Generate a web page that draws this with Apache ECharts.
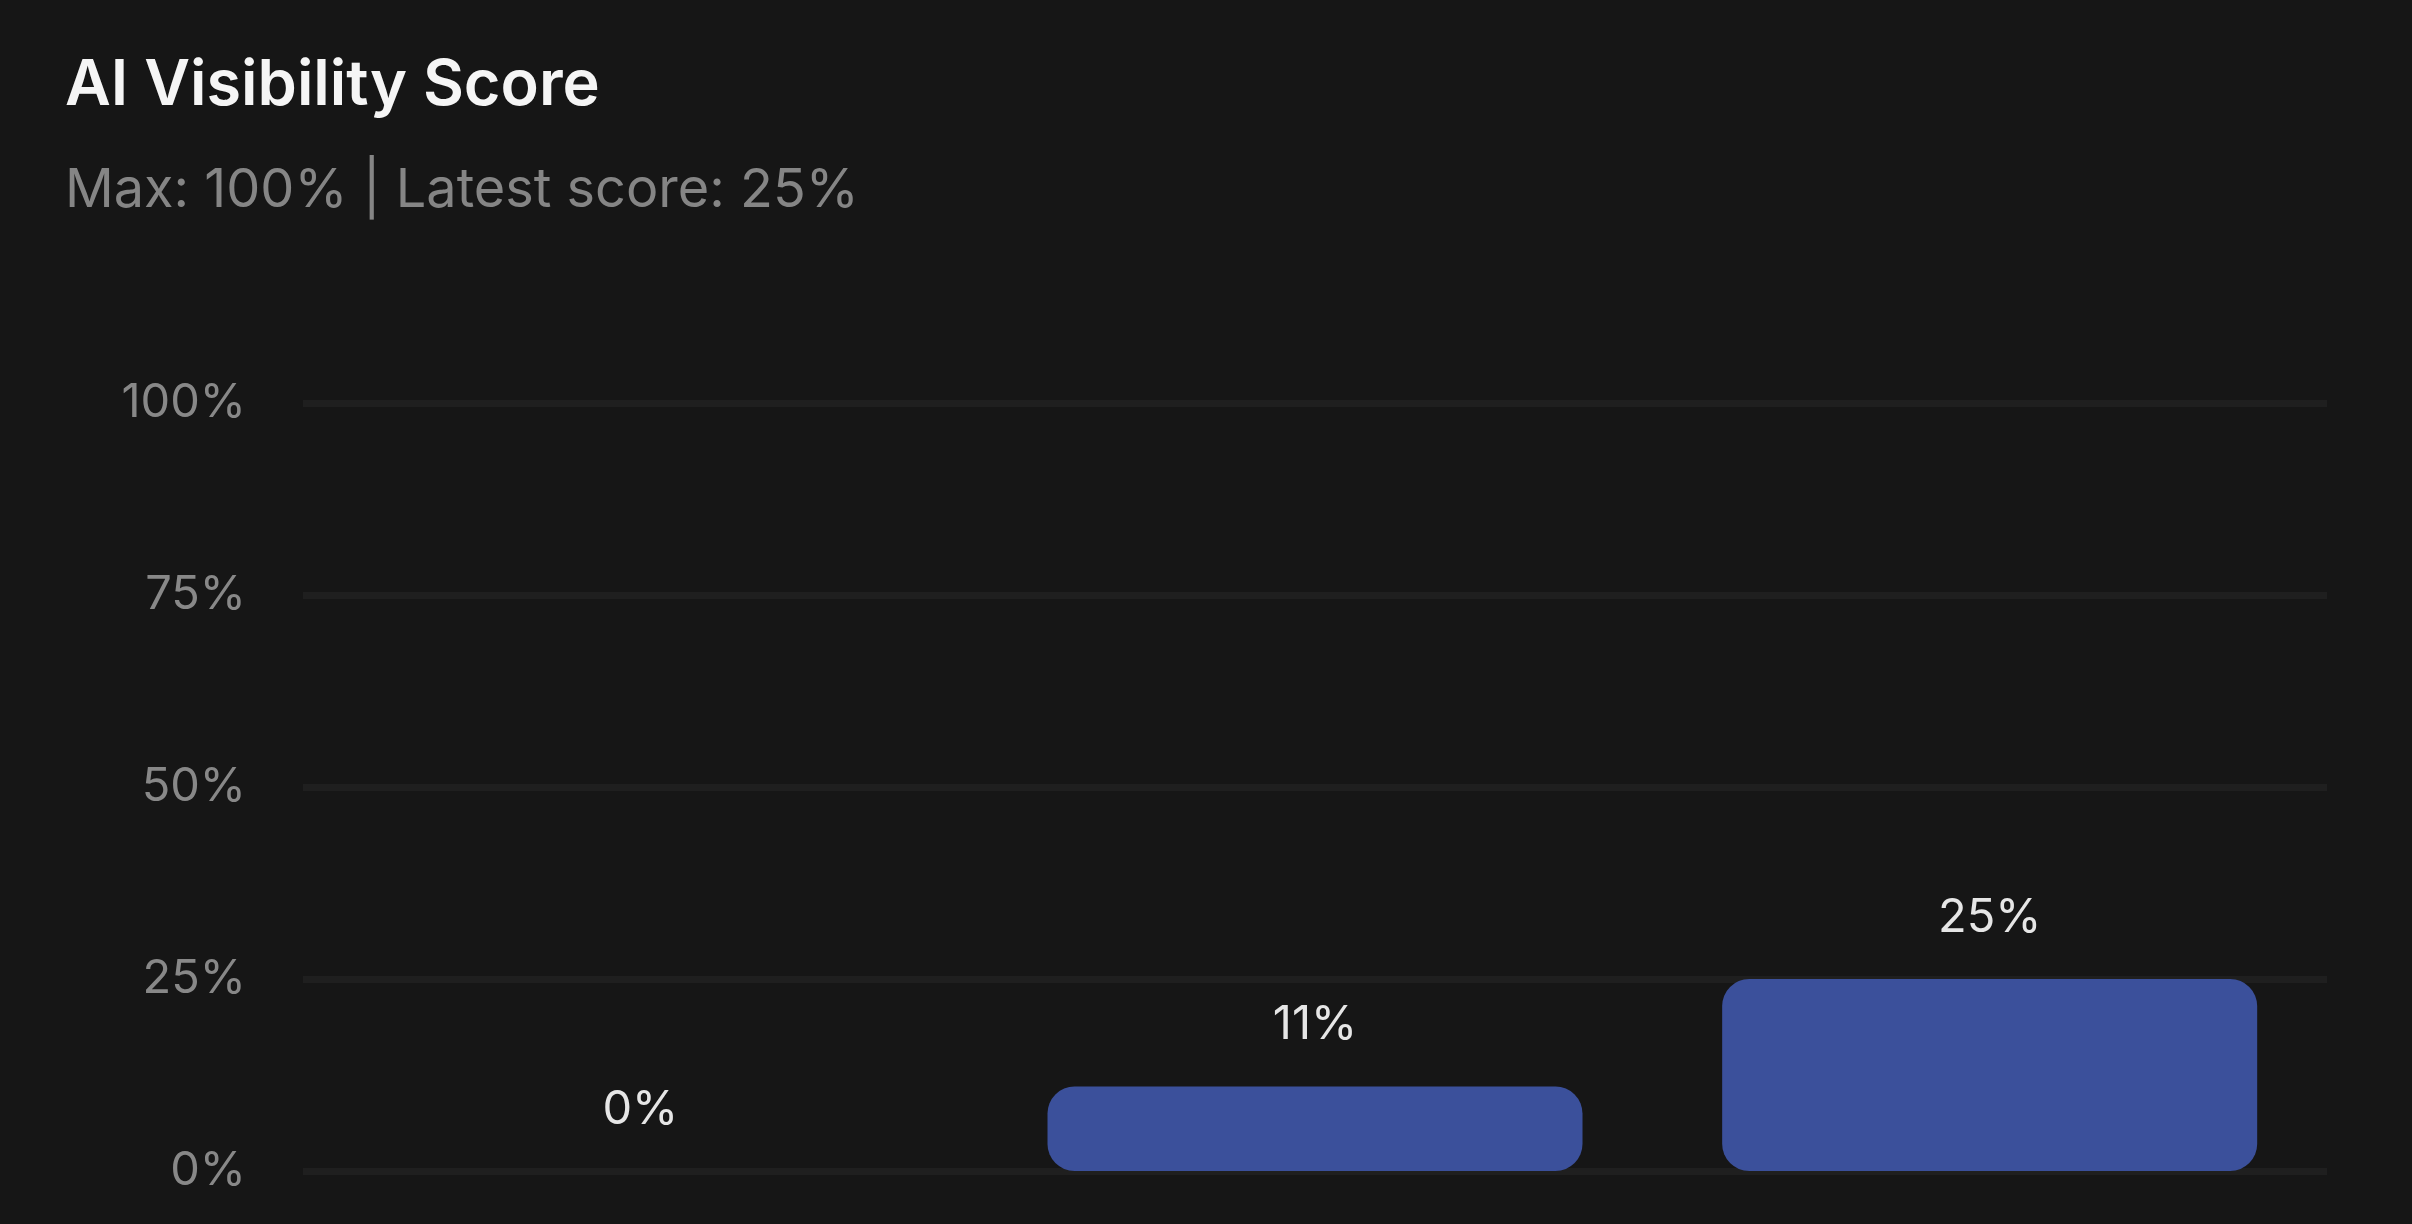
<!DOCTYPE html>
<html>
<head>
<meta charset="utf-8">
<script src="https://cdn.jsdelivr.net/npm/echarts@6/dist/echarts.min.js"></script>
<style>
html,body{margin:0;padding:0;background:#161616;}
#c{width:2412px;height:1224px;}
</style>
</head>
<body>
<div id="c"></div>
<script>
const titleText = "AI Visibility Score";
const subtitleText = "Max: 100% | Latest score: 25%";
const categories = ["Run 1", "Run 2", "Run 3"];
const scores = [0, 11, 25];
const yTicks = [0, 25, 50, 75, 100];

const chart = echarts.init(document.getElementById('c'), null, {renderer: 'canvas'});
chart.setOption({
  backgroundColor: '#161616',
  animation: false,
  title: [
    {text: titleText, left: 65, top: 55, padding: 0,
     textStyle: {color: '#f5f5f5', fontFamily: 'Inter', fontWeight: 600, fontSize: 63}},
    {text: subtitleText, left: 65, top: 164, padding: 0,
     textStyle: {color: '#858585', fontFamily: 'Inter', fontWeight: 400, fontSize: 54}}
  ],
  grid: {left: 303, right: 85, top: 403, bottom: 53, containLabel: false},
  xAxis: {
    type: 'category',
    data: categories,
    axisLine: {show: false},
    axisTick: {show: false},
    axisLabel: {show: false}
  },
  yAxis: {
    type: 'value',
    min: yTicks[0],
    max: yTicks[yTicks.length - 1],
    interval: yTicks[1] - yTicks[0],
    axisLine: {show: false},
    axisTick: {show: false},
    axisLabel: {color: '#888888', fontFamily: 'Inter', fontSize: 47, margin: 57,
      formatter: v => v + '%'},
    splitLine: {lineStyle: {color: '#1f1f1f', width: 7}}
  },
  series: [{
    type: 'bar',
    data: scores,
    barWidth: '79.3%',
    itemStyle: {color: '#3b509b', borderRadius: 27},
    label: {show: true, position: 'top', distance: 38, color: '#e6e6e6',
      fontFamily: 'Inter', fontSize: 47, formatter: p => p.value + '%'}
  }]
});
</script>
</body>
</html>
